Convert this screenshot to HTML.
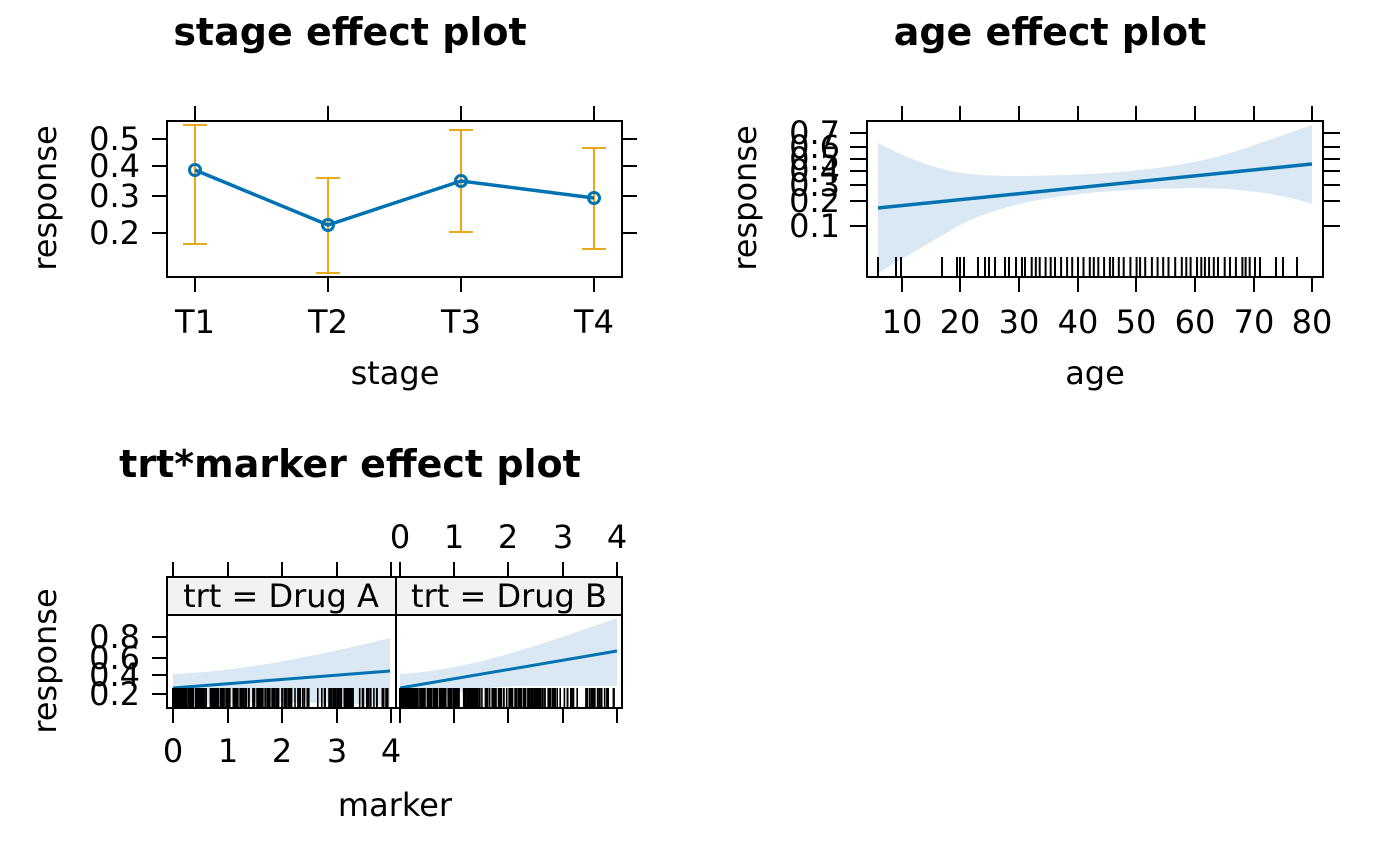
<!DOCTYPE html>
<html><head><meta charset="utf-8"><style>
html,body{margin:0;padding:0;background:#fff;}
svg{display:block;font-family:"DejaVu Sans","Liberation Sans",sans-serif;}
.t{font-size:32px;fill:#000;}
.h{font-size:38px;font-weight:bold;fill:#000;}
</style></head><body>
<svg id="s" width="1400" height="865" viewBox="0 0 1400 865" xmlns="http://www.w3.org/2000/svg">
<g stroke="#000" stroke-width="2" fill="none">
<rect x="167" y="121" width="455" height="156"/>
<path d="M152 139H167M152 166H167M152 196H167M152 233H167M622 139H637M622 166H637M622 196H637M622 233H637"/>
<path d="M195 106V121M328 106V121M461 106V121M594 106V121M195 277V292M328 277V292M461 277V292M594 277V292"/>
<rect x="867" y="121" width="456" height="156"/>
<path d="M850 133H867M850 147H867M850 159H867M850 171H867M850 185H867M850 201H867M850 226H867M1323 133H1340M1323 147H1340M1323 159H1340M1323 171H1340M1323 185H1340M1323 201H1340M1323 226H1340"/>
<path d="M902 106V121M960 106V121M1019 106V121M1078 106V121M1136 106V121M1195 106V121M1254 106V121M1312 106V121M902 277V292M960 277V292M1019 277V292M1078 277V292M1136 277V292M1195 277V292M1254 277V292M1312 277V292"/>
<path d="M152 637H167M152 658H167M152 675H167M152 694H167"/>
<path d="M173 562V577M228 562V577M282 562V577M337 562V577M391 562V577M400 562V577M454 562V577M508 562V577M563 562V577M617 562V577"/>
<path d="M173 708V723M228 708V723M282 708V723M337 708V723M391 708V723M400 708V723M454 708V723M508 708V723M563 708V723M617 708V723"/>
</g>
<path d="M878 143 C930 170 960 176 1010 176 C1100 176 1180 170 1240 150 L1312 125 L1312 204 C1270 190 1220 188 1190 188 C1100 190 1020 195 960 225 L878 273 Z" fill="#d9e8f3"/>
<line x1="878" y1="208" x2="1312" y2="164" stroke="#0072B2" stroke-width="3.5"/>
<g id="rugAge" stroke="#000" stroke-width="2"></g>
<rect x="167" y="577" width="455" height="38" fill="#f2f2f2" stroke="#000" stroke-width="2"/>
<path d="M173 674 C230 672 300 660 390 638 L390 705 C300 702 230 700 173 706 Z" fill="#d9e8f3"/>
<path d="M400 674 C470 670 540 645 617 618 L617 686 L530 686 C480 686 440 695 400 706 Z" fill="#d9e8f3"/>
<line x1="173" y1="688" x2="390" y2="671" stroke="#0072B2" stroke-width="3"/>
<line x1="400" y1="688" x2="617" y2="651" stroke="#0072B2" stroke-width="3"/>
<g id="rugA" stroke="#000" stroke-width="1.6"></g>
<g id="rugB" stroke="#000" stroke-width="1.6"></g>
<rect x="167" y="615" width="455" height="93" fill="none" stroke="#000" stroke-width="2"/>
<line x1="396" y1="577" x2="396" y2="708" stroke="#000" stroke-width="2"/>
<text class="t" x="281" y="607" text-anchor="middle">trt = Drug A</text>
<text class="t" x="509" y="607" text-anchor="middle">trt = Drug B</text>
<g stroke="#E69F00" stroke-width="1.8">
<path d="M195 125V244M183 125H207M183 244H207"/>
<path d="M328 178V273M316 178H340M316 273H340"/>
<path d="M461 130V232M449 130H473M449 232H473"/>
<path d="M594 148V249M582 148H606M582 249H606"/>
</g>
<polyline points="195,170 328,225 461,181 594,198" fill="none" stroke="#0072B2" stroke-width="3.5"/>
<g fill="none" stroke="#0072B2" stroke-width="3"><circle cx="195" cy="170" r="5.5"/><circle cx="328" cy="225" r="5.5"/><circle cx="461" cy="181" r="5.5"/><circle cx="594" cy="198" r="5.5"/></g>
<text class="h" x="350" y="45" text-anchor="middle">stage effect plot</text>
<text class="h" x="1050" y="45" text-anchor="middle">age effect plot</text>
<text class="h" x="350" y="477" text-anchor="middle">trt*marker effect plot</text>
<g class="t" text-anchor="end">
<text x="140" y="150">0.5</text><text x="140" y="177">0.4</text><text x="140" y="207">0.3</text><text x="140" y="244">0.2</text>
<text x="840" y="144">0.7</text><text x="840" y="158">0.6</text><text x="840" y="170">0.5</text><text x="840" y="182">0.4</text><text x="840" y="196">0.3</text><text x="840" y="212">0.2</text><text x="840" y="237">0.1</text>
<text x="140" y="648">0.8</text><text x="140" y="669">0.6</text><text x="140" y="686">0.4</text><text x="140" y="705">0.2</text>
</g>
<g class="t" text-anchor="middle">
<text x="195" y="333">T1</text><text x="328" y="333">T2</text><text x="461" y="333">T3</text><text x="594" y="333">T4</text>
<text x="395" y="384">stage</text>
<text x="902" y="333">10</text><text x="960" y="333">20</text><text x="1019" y="333">30</text><text x="1078" y="333">40</text><text x="1136" y="333">50</text><text x="1195" y="333">60</text><text x="1254" y="333">70</text><text x="1312" y="333">80</text>
<text x="1095" y="384">age</text>
<text x="400" y="548">0</text><text x="454" y="548">1</text><text x="508" y="548">2</text><text x="563" y="548">3</text><text x="617" y="548">4</text>
<text x="173" y="762">0</text><text x="228" y="762">1</text><text x="282" y="762">2</text><text x="337" y="762">3</text><text x="391" y="762">4</text>
<text x="395" y="816">marker</text>
<text transform="translate(56,198) rotate(-90)">response</text>
<text transform="translate(756,198) rotate(-90)">response</text>
<text transform="translate(56,661) rotate(-90)">response</text>
</g>
</svg>
<script>
var seed=7;function r(){seed=(seed*16807)%2147483647;return seed/2147483647;}
var NS="http://www.w3.org/2000/svg";
function ln(g,x,y1,y2){var l=document.createElementNS(NS,"line");l.setAttribute("x1",x);l.setAttribute("x2",x);l.setAttribute("y1",y1);l.setAttribute("y2",y2);g.appendChild(l);}
var ga=document.getElementById("rugAge");
[878,896,901,942,957,960,964,978,985,989,995,1005,1009,1016].forEach(function(x){ln(ga,x,257,277);});
for(var x=1022;x<1262;x+=3+r()*4){ln(ga,x.toFixed(1),257,277);}
[1276,1283,1297].forEach(function(x){ln(ga,x,257,277);});
function rug(id,x0){var g=document.getElementById(id);for(var i=0;i<300;i++){var m=Math.pow(r(),2.4)*4;ln(g,(x0+m*54.2).toFixed(1),688,708);}}
rug("rugA",173);rug("rugB",400);
</script>
</body></html>
